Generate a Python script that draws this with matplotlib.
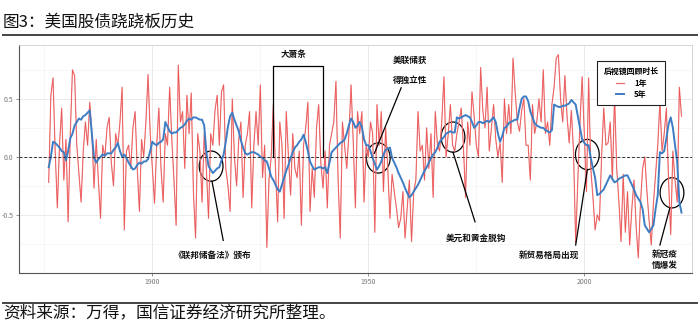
import numpy as np
import matplotlib.pyplot as plt
from matplotlib.patches import Ellipse
from matplotlib.lines import Line2D

plt.rcParams['font.family'] = ['Noto Sans CJK SC', 'DejaVu Sans']

# half-year steps, 1876.0 .. 2022.5
years = 1876 + 0.5 * np.arange(294)

# rolling stock/bond correlation, 1-year lookback
corr_1y = [
    -0.22, 0.53, 0.68, 0.05, -0.44, 0.1, 0.42, -0.2, 0.15, -0.56,
    0.2, 0.75, 0.70, 0.1, -0.15, -0.39, 0.05, 0.3, 0.1, 0.47,
    0.2, -0.27, 0.15, -0.2, -0.53, 0.1, 0.0, 0.25, 0.34, -0.05,
    -0.25, 0.2, 0.1, 0.3, 0.6, -0.63, 0.05, 0.1, -0.1, 0.25,
    0.39, -0.1, -0.47, 0.15, 0.0, 0.3, 0.71, 0.2, -0.1, -0.40,
    0.1, 0.42, -0.1, -0.39, 0.2, 0.1, 0.6, 0.15, -0.2, -0.59,
    0.79, 0.3, 0.39, -0.1, 0.53, 0.2, 0.55, -0.3, -0.70, 0.2,
    0.05, -0.39, 0.2, -0.1, -0.53, 0.2, 0.1, 0.4, 0.53, 0.1,
    0.56, 0.62, -0.1, -0.25, -0.47, 0.5, 0.0, -0.25, 0.15, 0.3,
    -0.35, 0.1, 0.2, 0.39, -0.44, 0.1, 0.39, 0.1, 0.62, -0.18,
    0.1, -0.78, -0.2, 0.0, 0.45, -0.1, -0.56, 0.3, 0.1, -0.53,
    0.39, 0.0, -0.33, 0.2, -0.1, -0.18, 0.05, -0.59, 0.1, 0.25,
    0.47, -0.47, -0.1, -0.35, 0.25, 0.45, -0.05, -0.27, 0.05, -0.44,
    0.1, 0.2, 0.3, 0.65, -0.2, -0.70, 0.3, 0.1, -0.1, 0.2,
    0.62, 0.13, -0.44, 0.39, 0.2, 0.39, -0.39, 0.1, 0.0, 0.3,
    0.2, -0.65, 0.45, 0.1, 0.39, -0.3, 0.25, -0.1, -0.53, -0.15,
    -0.3, -0.44, -0.61, -0.53, -0.3, -0.70, -0.44, -0.2, -0.73, -0.3,
    -0.2, 0.39, 0.05, 0.1, -0.2, 0.25, -0.1, 0.2, -0.35, 0.39,
    0.1, 0.05, 0.3, 0.69, 0.0, 0.2, 0.45, 0.1, 0.05, 0.2,
    0.3, 0.42, 0.1, -0.35, 0.3, 0.1, 0.56, 0.35, 0.1, 0.0,
    0.77, 0.4, 0.25, 0.6, 0.05, 0.25, 0.45, 0.15, 0.0, 0.12,
    -0.22, 0.5, 0.2, 0.45, 0.2, 0.85, 0.55, 0.3, 0.22, 0.4,
    0.5, 0.1, 0.1, -0.2, 0.45, 0.2, 0.3, 0.5, 0.3, 0.75,
    0.2, 0.3, 0.1, 0.45, 0.6, 0.85, 0.88, 0.5, 0.3, 0.7,
    0.35, 0.12, 0.4, 0.05, -0.74, -0.2, 0.3, 0.69, 0.2, -0.3,
    0.68, -0.1, -0.35, -0.63, -0.5, -0.55, 0.0, 0.42, 0.1, 0.12,
    0.3, -0.2, 0.53, -0.1, -0.38, -0.73, -0.15, -0.65, -0.3, -0.76,
    -0.45, -0.2, -0.6, -0.87, -0.4, -0.1, 0.0, -0.3, -0.55, -0.76,
    -0.4, -0.15, 0.1, 0.47, 0.05, 0.2, 0.42, -0.2, -0.67, 0.05,
    -0.2, -0.39, 0.6, 0.35,
]

# same, 5-year lookback
corr_5y = [
    -0.09, 0.0, 0.13, 0.12, 0.10, 0.08, 0.05, 0.04, -0.03, 0.05,
    0.16, 0.2, 0.27, 0.3, 0.33, 0.32, 0.35, 0.36, 0.38, 0.40,
    0.2, -0.01, -0.05, -0.02, 0.0, 0.02, 0.01, 0.03, 0.03, 0.03,
    0.06, 0.08, 0.12, 0.05, 0.0, 0.02, -0.01, -0.05, -0.08, -0.11,
    -0.1, -0.07, -0.05, -0.06, -0.04, -0.04, -0.02, 0.05, 0.13, 0.11,
    0.10, 0.12, 0.13, 0.15, 0.30, 0.26, 0.22, 0.2, 0.21, 0.21,
    0.23, 0.25, 0.26, 0.28, 0.31, 0.33, 0.32, 0.34, 0.34, 0.33,
    0.32, 0.32, 0.27, 0.04, -0.08, -0.11, -0.14, -0.12, -0.10, -0.09,
    -0.03, 0.02, 0.13, 0.26, 0.35, 0.38, 0.32, 0.27, 0.22, 0.14,
    0.08, 0.03, 0.02, 0.03, 0.04, 0.04, 0.03, 0.02, 0.0, -0.01,
    -0.03, -0.04, -0.1, -0.17, -0.2, -0.24, -0.28, -0.30, -0.24, -0.18,
    -0.12, -0.07, -0.01, 0.04, 0.08, 0.1, 0.13, 0.15, 0.19, 0.13,
    0.05, -0.04, -0.08, -0.11, -0.10, -0.09, -0.09, -0.1, -0.09, -0.14,
    -0.05, 0.04, 0.06, 0.08, 0.10, 0.12, 0.13, 0.15, 0.2, 0.27,
    0.33, 0.30, 0.25, 0.27, 0.30, 0.26, 0.15, 0.10, 0.10, 0.05,
    -0.01, -0.06, -0.11, -0.08, -0.04, 0.02, 0.06, 0.07, 0.08, -0.01,
    -0.05, -0.09, -0.14, -0.18, -0.22, -0.27, -0.31, -0.35, -0.33, -0.30,
    -0.27, -0.24, -0.20, -0.16, -0.12, -0.09, -0.05, -0.01, 0.02, 0.04,
    0.08, 0.13, 0.15, 0.17, 0.20, 0.21, 0.22, 0.21, 0.21, 0.34,
    0.33, 0.34, 0.35, 0.36, 0.35, 0.34, 0.30, 0.25, 0.27, 0.30,
    0.30, 0.29, 0.30, 0.31, 0.30, 0.32, 0.34, 0.30, 0.2, 0.13,
    0.18, 0.25, 0.26, 0.29, 0.30, 0.31, 0.32, 0.32, 0.42, 0.50,
    0.52, 0.52, 0.48, 0.39, 0.34, 0.29, 0.27, 0.26, 0.25, 0.25,
    0.23, 0.22, 0.21, 0.23, 0.45, 0.44, 0.43, 0.43, 0.44, 0.44,
    0.45, 0.46, 0.49, 0.47, 0.45, 0.35, 0.25, 0.15, 0.12, 0.10,
    0.10, -0.01, -0.1, -0.18, -0.33, -0.32, -0.30, -0.28, -0.24, -0.20,
    -0.16, -0.19, -0.22, -0.21, -0.19, -0.18, -0.17, -0.16, -0.16, -0.2,
    -0.24, -0.28, -0.33, -0.36, -0.39, -0.45, -0.59, -0.62, -0.65, -0.62,
    -0.59, -0.45, -0.33, 0.04, 0.03, 0.05, 0.16, 0.28, 0.34, 0.25,
    0.1, -0.04, -0.39, -0.48,
]

series_labels = ['1年', '5年']

fig = plt.figure(figsize=(7, 3.32), dpi=100)
ax = fig.add_axes([0.027, 0.178, 0.962, 0.687])

ax.plot(years, corr_1y, color='#F29A9A', lw=0.9)
ax.plot(years, corr_1y, color='#E41A1C', lw=0.5, alpha=0.55, label=series_labels[0])
ax.plot(years, corr_5y, color='#3D7DC4', lw=1.4, label=series_labels[1])
ax.axhline(0, color='#333333', lw=0.7, ls=(0, (3, 2)))

ax.set_xlim(1869.1, 2024.2)
ax.set_ylim(-1.0, 0.965)
ax.set_xticks([1900, 1950, 2000])
ax.set_xticks([1875, 1925, 1975, 2025], minor=True)
ax.set_yticks([-0.5, 0, 0.5])
ax.set_yticklabels(['-0.5', '0.0', '0.5'])
ax.set_yticks([-0.75, -0.25, 0.25, 0.75], minor=True)
ax.grid(which='major', color='#E6E6E6', lw=0.6)
ax.grid(which='minor', color='#F0F0F0', lw=0.4)
ax.set_axisbelow(True)
ax.tick_params(which='major', length=2, width=0.5, color='#666666',
               labelsize=5, labelcolor='#777777', pad=2)
ax.tick_params(which='minor', length=0)
for side in ['left', 'bottom']:
    ax.spines[side].set_color('#555555')
    ax.spines[side].set_linewidth(0.8)
for side in ['top', 'right']:
    ax.spines[side].set_color('#D0D0D0')
    ax.spines[side].set_linewidth(0.6)

note = dict(fontsize=6.2, fontweight='bold', color='#111111', ha='center', va='center')

# Federal Reserve Act
ax.add_patch(Ellipse((1913.6, -0.08), 5.5, 0.26, fill=False, ec='black', lw=0.9))
ax.plot([1913.8, 1916.4], [-0.21, -0.72], color='black', lw=0.9)
ax.text(1913.8, -0.845, '《联邦储备法》颁布', **note)

# Great Depression bracket
ax.plot([1927.9, 1927.9, 1939.6, 1939.6], [0, 0.785, 0.785, 0], color='black', lw=0.9)
ax.text(1932.6, 0.88, '大萧条', **note)

# Fed independence
ax.add_patch(Ellipse((1952.3, -0.01), 5.5, 0.26, fill=False, ec='black', lw=0.9))
ax.plot([1951.4, 1957.6], [0.03, 0.595], color='black', lw=0.9)
ax.text(1959.7, 0.83, '美联储获', **note)
ax.text(1959.7, 0.66, '得独立性', **note)

# end of gold convertibility
ax.add_patch(Ellipse((1969.6, 0.17), 5.5, 0.26, fill=False, ec='black', lw=0.9))
ax.plot([1969.6, 1974.7], [0.04, -0.56], color='black', lw=0.9)
ax.text(1974.9, -0.70, '美元和黄金脱钩', **note)

# new trade regime
ax.add_patch(Ellipse((2000.7, 0.02), 5.5, 0.26, fill=False, ec='black', lw=0.9))
ax.plot([2000.7, 1998.0], [-0.11, -0.76], color='black', lw=0.9)
ax.text(1991.9, -0.845, '新贸易格局出现', **note)

# covid
ax.add_patch(Ellipse((2020.3, -0.31), 5.5, 0.26, fill=False, ec='black', lw=0.9))
ax.plot([2019.8, 2017.5], [-0.44, -0.76], color='black', lw=0.9)
ax.text(2018.7, -0.89, '新冠疫\n情爆发', linespacing=1.3, **note)

leg = ax.legend(title='后视镜回顾时长', loc='upper left', bbox_to_anchor=(0.853, 0.947),
                prop={'size': 5.7, 'weight': 'bold'}, title_fontproperties={'size': 5.7, 'weight': 'bold'},
                frameon=True, fancybox=False, edgecolor='#222222', framealpha=1,
                handlelength=1.0, handletextpad=1.3, labelspacing=0.3, borderpad=0.8)
leg.get_frame().set_linewidth(0.8)
leg.get_lines()[0].set_color('#EE6E6E')
leg.get_lines()[0].set_linewidth(0.9)
leg.get_lines()[0].set_alpha(1)

fig.text(0.004, 1 - 22 / 332, '图3：美国股债跷跷板历史', fontsize=12, color='#111111', va='center')
fig.add_artist(Line2D([0.004, 0.996], [1 - 35 / 332] * 2, color='#444444', lw=1.4))
fig.add_artist(Line2D([0.004, 0.996], [1 - 303 / 332] * 2, color='#444444', lw=1.4))
fig.text(0.004, 1 - 313 / 332, '资料来源：万得，国信证券经济研究所整理。', fontsize=12, color='#111111', va='center')

fig.savefig('out.png', dpi=100)
